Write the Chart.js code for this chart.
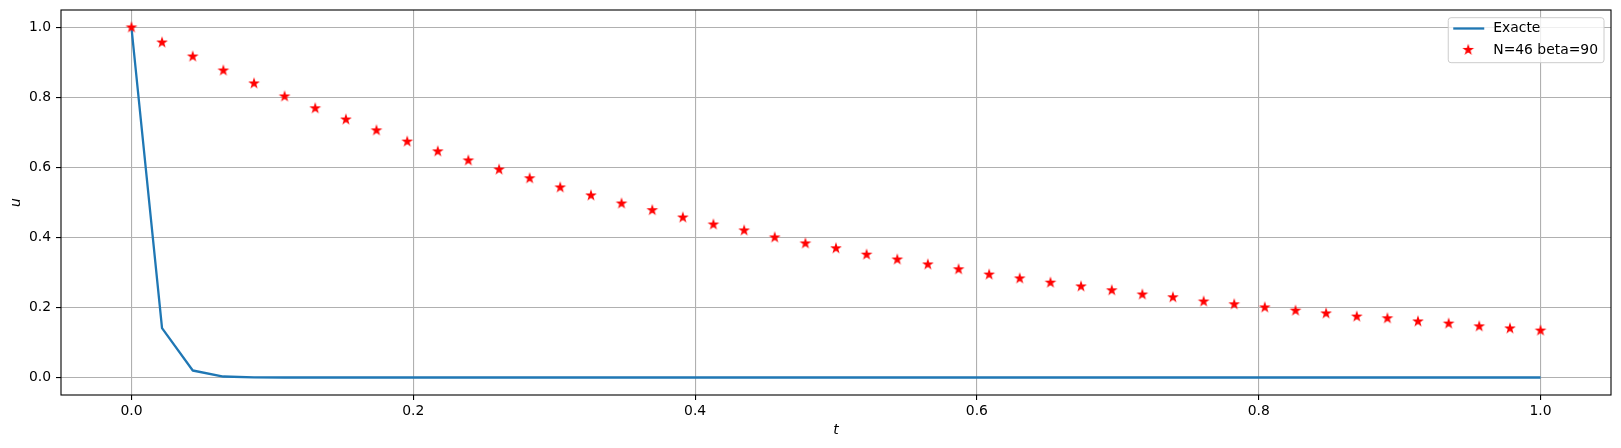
<!DOCTYPE html>
<html>
<head>
<meta charset="utf-8">
<script src="https://cdn.jsdelivr.net/npm/chart.js@4/dist/chart.umd.min.js"></script>
<style>
  html, body { margin: 0; padding: 0; background: #fff; }
  #wrap { width: 1621px; height: 448px; }
</style>
</head>
<body>
<div id="wrap"><canvas id="c" width="1621" height="448"></canvas></div>
<script>
// ---- data ----
const tValues = [0, 0.0217, 0.0435, 0.0652, 0.0870, 0.1087, 0.1304, 0.1522, 0.1739, 0.1957,
  0.2174, 0.2391, 0.2609, 0.2826, 0.3043, 0.3261, 0.3478, 0.3696, 0.3913, 0.4130,
  0.4348, 0.4565, 0.4783, 0.5, 0.5217, 0.5435, 0.5652, 0.5870, 0.6087, 0.6304,
  0.6522, 0.6739, 0.6957, 0.7174, 0.7391, 0.7609, 0.7826, 0.8043, 0.8261, 0.8478,
  0.8696, 0.8913, 0.9130, 0.9348, 0.9565, 0.9783, 1.0];
const uExact = [1.0, 0.141, 0.020, 0.0028, 0.0004, 0.00006, 0, 0, 0, 0,
  0, 0, 0, 0, 0, 0, 0, 0, 0, 0,
  0, 0, 0, 0, 0, 0, 0, 0, 0, 0,
  0, 0, 0, 0, 0, 0, 0, 0, 0, 0,
  0, 0, 0, 0, 0, 0, 0];
const uApprox = [1.0, 0.957, 0.917, 0.877, 0.840, 0.803, 0.769, 0.737, 0.706, 0.674,
  0.646, 0.620, 0.594, 0.569, 0.543, 0.520, 0.497, 0.478, 0.457, 0.437,
  0.420, 0.400, 0.383, 0.369, 0.351, 0.337, 0.323, 0.309, 0.294, 0.283,
  0.271, 0.260, 0.249, 0.237, 0.229, 0.217, 0.209, 0.200, 0.191, 0.183,
  0.174, 0.169, 0.160, 0.154, 0.146, 0.140, 0.134];
const xTicks = [0, 0.2, 0.4, 0.6, 0.8, 1.0];
const yTicks = [0, 0.2, 0.4, 0.6, 0.8, 1.0];
const labelExact = 'Exacte';
const labelApprox = 'N=46 beta=90';
const xTitle = 't';
const yTitle = 'u';

// ---- star marker ----
function makeStar(size, R, color, lw) {
  const cv = document.createElement('canvas');
  cv.width = size; cv.height = size;
  const g = cv.getContext('2d');
  const cx = size / 2, cy = size / 2, r = R * 0.381966;
  g.beginPath();
  for (let i = 0; i < 10; i++) {
    const rad = (i % 2 === 0) ? R : r;
    const a = -Math.PI / 2 + i * Math.PI / 5;
    const px = cx + rad * Math.cos(a), py = cy + rad * Math.sin(a);
    if (i === 0) g.moveTo(px, py); else g.lineTo(px, py);
  }
  g.closePath();
  g.fillStyle = color; g.fill();
  g.lineWidth = lw; g.strokeStyle = color; g.lineJoin = 'miter'; g.stroke();
  return cv;
}
const starImg = makeStar(14, 4.05, '#ff0000', 1.3);

const FONT = "'DejaVu Sans', sans-serif";
Chart.defaults.font.family = FONT;
Chart.defaults.font.size = 13.9;
Chart.defaults.color = '#000';

const framePlugin = {
  id: 'frame',
  afterDatasetsDraw(chart) {
    const { ctx, chartArea: a } = chart;
    ctx.save();
    ctx.strokeStyle = '#000';
    ctx.lineWidth = 1.1;
    ctx.strokeRect(a.left, a.top, a.right - a.left, a.bottom - a.top);
    ctx.restore();
  }
};

const legendPlugin = {
  id: 'mplLegend',
  afterDraw(chart) {
    const { ctx, chartArea: a } = chart;
    const ds = chart.data.datasets;
    ctx.save();
    ctx.font = '13.9px ' + FONT;
    const tw = Math.max(...ds.map(d => ctx.measureText(d.label).width));
    const w = 45 + tw + 6;
    const h = 45;
    const right = a.right - 7;
    const left = right - w;
    const top = a.top + 7.7;
    const rr = 2.8;
    ctx.beginPath();
    ctx.moveTo(left + rr, top);
    ctx.lineTo(left + w - rr, top);
    ctx.quadraticCurveTo(left + w, top, left + w, top + rr);
    ctx.lineTo(left + w, top + h - rr);
    ctx.quadraticCurveTo(left + w, top + h, left + w - rr, top + h);
    ctx.lineTo(left + rr, top + h);
    ctx.quadraticCurveTo(left, top + h, left, top + h - rr);
    ctx.lineTo(left, top + rr);
    ctx.quadraticCurveTo(left, top, left + rr, top);
    ctx.closePath();
    ctx.fillStyle = 'rgba(255,255,255,0.8)';
    ctx.fill();
    ctx.strokeStyle = '#cccccc';
    ctx.lineWidth = 1;
    ctx.stroke();
    const rows = [top + 10.8, top + 32.2];
    ctx.beginPath();
    ctx.moveTo(left + 5, rows[0]);
    ctx.lineTo(left + 36, rows[0]);
    ctx.strokeStyle = ds[0].borderColor;
    ctx.lineWidth = ds[0].borderWidth;
    ctx.stroke();
    ctx.drawImage(starImg, left + 20 - starImg.width / 2, rows[1] - starImg.height / 2);
    ctx.fillStyle = '#000';
    ctx.textBaseline = 'middle';
    ctx.textAlign = 'left';
    ctx.fillText(ds[0].label, left + 45, rows[0]);
    ctx.fillText(ds[1].label, left + 45, rows[1]);
    ctx.restore();
  }
};

new Chart(document.getElementById('c'), {
  type: 'line',
  data: {
    datasets: [
      {
        label: labelExact,
        data: tValues.map((t, i) => ({ x: t, y: uExact[i] })),
        borderColor: '#1f77b4',
        backgroundColor: '#1f77b4',
        borderWidth: 2.3,
        pointRadius: 0,
        tension: 0,
        fill: false,
        borderJoinStyle: 'round',
        order: 2
      },
      {
        label: labelApprox,
        data: tValues.map((t, i) => ({ x: t, y: uApprox[i] })),
        showLine: false,
        pointStyle: starImg,
        pointRadius: 5,
        borderColor: '#ff0000',
        backgroundColor: '#ff0000',
        order: 1
      }
    ]
  },
  options: {
    responsive: false,
    animation: false,
    devicePixelRatio: 1,
    layout: { padding: { top: 10, right: 10, left: 0, bottom: 0 } },
    plugins: { legend: { display: false }, tooltip: { enabled: false } },
    scales: {
      x: {
        type: 'linear',
        min: -0.05, max: 1.05,
        afterBuildTicks(s) { s.ticks = xTicks.map(v => ({ value: v })); },
        afterFit(s) { s.height = 53; s.paddingLeft = 0; s.paddingRight = 0; },
        ticks: { padding: 3, maxRotation: 0, callback: v => v.toFixed(1), font: { size: 13.9 } },
        grid: { color: '#b0b0b0', lineWidth: 1.1, tickColor: '#000', tickLength: 5, drawTicks: true },
        border: { display: false },
        title: { display: true, text: xTitle, padding: { top: 0, bottom: 9 }, font: { size: 13.9, style: 'italic' } }
      },
      y: {
        type: 'linear',
        min: -0.05, max: 1.05,
        afterBuildTicks(s) { s.ticks = yTicks.map(v => ({ value: v })); },
        afterFit(s) { s.width = 61; s.paddingTop = 0; s.paddingBottom = 0; },
        ticks: { padding: 5, callback: v => v.toFixed(1), font: { size: 13.9 } },
        grid: { color: '#b0b0b0', lineWidth: 1.1, tickColor: '#000', tickLength: 5, drawTicks: true },
        border: { display: false },
        title: { display: true, text: yTitle, padding: { top: 8, bottom: 0 }, font: { size: 13.9, style: 'italic' } }
      }
    }
  },
  plugins: [framePlugin, legendPlugin]
});
</script>
</body>
</html>
